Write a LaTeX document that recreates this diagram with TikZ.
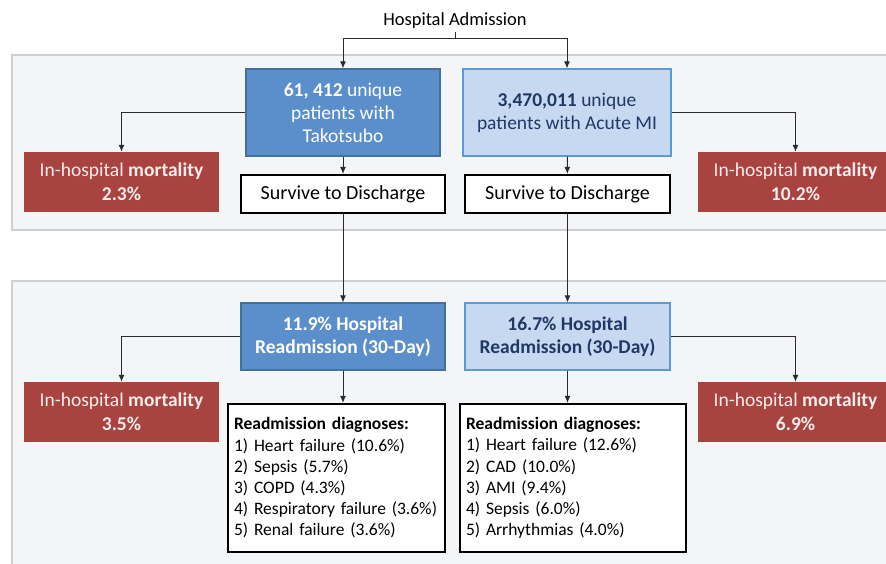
\documentclass[tikz,border=0pt]{standalone}
\usepackage{fontspec}
\setmainfont{Carlito}
\usetikzlibrary{arrows.meta}
\definecolor{panelfill}{HTML}{F4F5F7}
\definecolor{panelline}{HTML}{CDCFD2}
\definecolor{darkblue}{HTML}{5B8FCB}
\definecolor{darkline}{HTML}{41719C}
\definecolor{lightblue}{HTML}{C6D9F1}
\definecolor{lightline}{HTML}{5B9BD5}
\definecolor{navy}{HTML}{1F3864}
\definecolor{mortred}{HTML}{A9433F}
\definecolor{mortext}{HTML}{FBEDED}
\definecolor{wire}{HTML}{2B2B2B}

\begin{document}
\begin{tikzpicture}[x=1pt,y=-1pt,
    panel/.style={draw=panelline,fill=panelfill,line width=1.5pt},
    darkbox/.style={draw=darkline,fill=darkblue,text=white,line width=1.2pt,
        inner sep=0pt,align=center,font=\fontsize{19.5}{23}\selectfont},
    lightbox/.style={draw=lightline,fill=lightblue,text=navy,line width=1.2pt,
        inner sep=0pt,align=center,font=\fontsize{19.5}{23}\selectfont},
    mortbox/.style={fill=mortred,text=mortext,inner sep=0pt,align=center,
        minimum width=195pt,minimum height=60pt,font=\fontsize{19.5}{24}\selectfont},
    survbox/.style={draw=black,fill=white,line width=2.2pt,inner sep=0pt,
        minimum height=38pt,font=\fontsize{20}{23}\selectfont},
    listbox/.style={draw=black,fill=white,line width=2.2pt,inner xsep=6pt,inner ysep=9pt,
        align=left,minimum height=148pt,font=\fontsize{17.5}{21.2}\selectfont},
    arr/.style={draw=wire,line width=1pt,-{Latex[length=7pt,width=6pt]}}]
  \useasboundingbox (0,0) rectangle (886,564);
  \clip (0,0) rectangle (886,564);

  % grey panels
  \draw[panel] (12,55) rectangle (900,230);
  \draw[panel] (12,281) rectangle (900,580);

  % first admission
  \node[font=\fontsize{18.5}{22}\selectfont] (adm) at (455,21) {Hospital Admission};
  \coordinate (split) at (455,39);
  \node[darkbox,minimum width=194pt,minimum height=87pt] (tako) at (343,112.5)
      {\textbf{61, 412} unique\\patients with\\Takotsubo};
  \node[lightbox,minimum width=208pt,minimum height=87pt] (ami) at (567,112.5)
      {\textbf{3,470,011} unique\\patients with Acute MI};
  \node[mortbox] (mortA) at (121.5,182) {In-hospital \textbf{mortality}\\\textbf{2.3\%}};
  \node[mortbox] (mortB) at (795.5,182) {In-hospital \textbf{mortality}\\\textbf{10.2\%}};
  \node[survbox,minimum width=204pt] (survA) at (343,194) {Survive to Discharge};
  \node[survbox,minimum width=205pt] (survB) at (567.5,194) {Survive to Discharge};

  % readmission
  \node[darkbox,minimum width=204pt,minimum height=67pt] (readmA) at (343,336.5)
      {\textbf{11.9\% Hospital}\\\textbf{Readmission (30-Day)}};
  \node[lightbox,minimum width=205pt,minimum height=67pt] (readmB) at (567.5,336.5)
      {\textbf{16.7\% Hospital}\\\textbf{Readmission (30-Day)}};
  \node[mortbox] (mortC) at (121.5,412) {In-hospital \textbf{mortality}\\\textbf{3.5\%}};
  \node[mortbox] (mortD) at (795.5,412) {In-hospital \textbf{mortality}\\\textbf{6.9\%}};
  \node[listbox,text width=205pt] (diagA) at (336.5,478)
      {\textbf{Readmission diagnoses:}\\1) Heart failure (10.6\%)\\2) Sepsis (5.7\%)\\
       3) COPD (4.3\%)\\4) Respiratory failure (3.6\%)\\5) Renal failure (3.6\%)};
  \node[listbox,text width=214pt] (diagB) at (573,478)
      {\textbf{Readmission diagnoses:}\\1) Heart failure (12.6\%)\\2) CAD (10.0\%)\\
       3) AMI (9.4\%)\\4) Sepsis (6.0\%)\\5) Arrhythmias (4.0\%)};

  % connectors
  \draw[draw=wire,line width=1pt] (adm) -- (split);
  \draw[arr] (split) -| (tako);
  \draw[arr] (split) -| (ami);
  \draw[arr] (tako.west) -| (mortA.north);
  \draw[arr] (ami.east) -| (mortB.north);
  \draw[arr] (tako) -- (survA);
  \draw[arr] (ami) -- (survB);
  \draw[arr] (survA) -- (readmA);
  \draw[arr] (survB) -- (readmB);
  \draw[arr] (readmA.west) -| (mortC.north);
  \draw[arr] (readmB.east) -| (mortD.north);
  \draw[arr] (readmA.south) -- (readmA.south |- diagA.north);
  \draw[arr] (readmB.south) -- (readmB.south |- diagB.north);
\end{tikzpicture}
\end{document}
